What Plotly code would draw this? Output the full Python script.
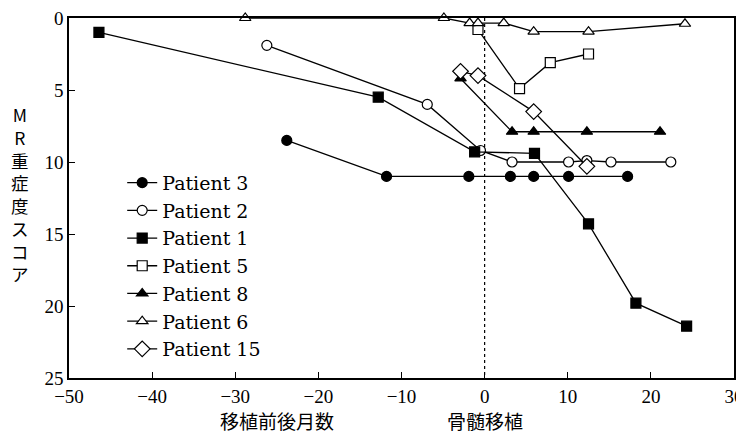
import plotly.graph_objects as go

# ---- data (months relative to BMT, MR severity score) ----
p3_x = [-23.8, -11.8, -1.9, 3.1, 5.9, 10.1, 17.2]
p3_y = [8.5, 11.0, 11.0, 11.0, 11.0, 11.0, 11.0]

p2_x = [-26.2, -6.9, -0.5, 3.3, 10.1, 12.3, 15.2, 22.4]
p2_y = [1.9, 6.0, 9.2, 10.0, 10.0, 9.9, 10.0, 10.0]

p1_x = [-46.4, -12.8, -1.2, 6.0, 12.5, 18.2, 24.3]
p1_y = [1.0, 5.5, 9.3, 9.4, 14.3, 19.8, 21.4]

p5_x = [-0.8, 4.2, 7.9, 12.5]
p5_y = [0.8, 4.9, 3.1, 2.5]

p8_x = [-2.9, 3.3, 5.9, 12.3, 21.1]
p8_y = [4.2, 7.9, 7.9, 7.9, 7.9]

p6_x = [-28.8, -4.9, -1.8, -0.8, 2.3, 5.9, 12.5, 24.1]
p6_y = [0.0, 0.0, 0.35, 0.35, 0.35, 0.95, 0.95, 0.4]

p15_x = [-2.9, -0.8, 5.9, 12.3]
p15_y = [3.7, 4.0, 6.5, 10.3]

names = ["Patient 3", "Patient 2", "Patient 1", "Patient 5",
         "Patient 8", "Patient 6", "Patient 15"]

x_ticks = [-50, -40, -30, -20, -10, 0, 10, 20, 30]
y_ticks = [0, 5, 10, 15, 20, 25]

series = [
    (p3_x, p3_y, "circle", "black", 10),
    (p2_x, p2_y, "circle", "white", 10),
    (p1_x, p1_y, "square", "black", 10),
    (p5_x, p5_y, "square", "white", 10),
    (p8_x, p8_y, "triangle-up", "black", 10),
    (p6_x, p6_y, "triangle-up", "white", 10),
    (p15_x, p15_y, "diamond", "white", 12),
]

fig = go.Figure()
for (xs, ys, sym, fill, size), name in zip(series, names):
    fig.add_trace(go.Scatter(
        x=xs, y=ys, name=name, mode="lines+markers",
        line=dict(color="black", width=1.3),
        marker=dict(symbol=sym, color=fill, size=size,
                    line=dict(color="black", width=1.2)),
        cliponaxis=False,
    ))

# BMT reference line
fig.add_shape(type="line", xref="x", yref="y", x0=0, x1=0, y0=0, y1=25,
              line=dict(color="black", width=1.2, dash="dot"), layer="below")

tick_font = dict(family="Liberation Serif, serif", size=19, color="black")
fig.update_xaxes(range=[-50, 30], tickvals=x_ticks, ticks="inside", ticklen=6,
                 tickwidth=1.2, tickcolor="black", showline=True, linecolor="black",
                 linewidth=1.5, mirror=True, showgrid=False, zeroline=False,
                 tickfont=tick_font, automargin=False, ticklabeloverflow="allow")
fig.update_yaxes(range=[25, 0], tickvals=y_ticks, ticks="inside", ticklen=6,
                 tickwidth=1.2, tickcolor="black", showline=True, linecolor="black",
                 linewidth=1.5, mirror=True, showgrid=False, zeroline=False,
                 tickfont=tick_font, automargin=False, ticklabeloverflow="allow")

cjk = "Noto Sans CJK JP"
fig.add_annotation(text="M<br>R<br>重<br>症<br>度<br>ス<br>コ<br>ア",
                   xref="paper", yref="paper", x=-0.074, y=0.51,
                   showarrow=False, font=dict(family=cjk, size=17.5, color="black"),
                   xanchor="center", yanchor="middle")
fig.add_annotation(text="移植前後月数", xref="paper", yref="paper", x=0.3126, y=-0.118,
                   showarrow=False, font=dict(family=cjk, size=19, color="black"),
                   xanchor="center", yanchor="middle")
fig.add_annotation(text="骨髄移植", xref="x", yref="paper", x=0, y=-0.118,
                   showarrow=False, font=dict(family=cjk, size=19, color="black"),
                   xanchor="center", yanchor="middle")

# page has a small body margin, so margins are offset to land the plot area
# at the reference position (x 69-734, y 18-378 in the window)
fig.update_layout(
    width=744, height=437,
    margin=dict(l=61, r=18, t=10, b=67, autoexpand=False),
    paper_bgcolor="white", plot_bgcolor="white",
    showlegend=True,
    legend=dict(x=0.08, y=0.595, xanchor="left", yanchor="top",
                bgcolor="rgba(0,0,0,0)",
                font=dict(family="DejaVu Serif, Liberation Serif, serif",
                          size=19, color="black")),
)

fig.write_html("out.html")
